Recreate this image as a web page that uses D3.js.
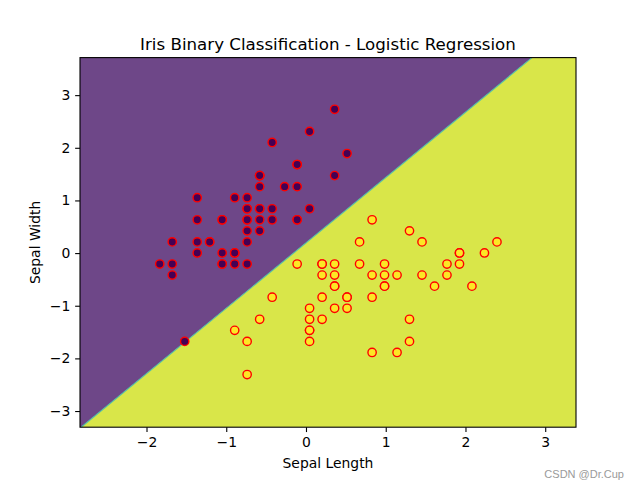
<!DOCTYPE html>
<html>
<head>
<meta charset="utf-8">
<script src="https://cdn.jsdelivr.net/npm/d3@7"></script>
<style>
  html, body { margin: 0; padding: 0; background: #fff; }
  svg { display: block; }
  text { font-family: "DejaVu Sans", sans-serif; }
</style>
</head>
<body>
<div id="chart"></div>
<script>
// Standardized sepal length / width (setosa = class 0, versicolor = class 1)
const sepalLength = [
  -0.581,-0.894,-1.208,-1.364,-0.738,-0.111,-1.364,-0.738,-1.677,-0.894,
  -0.111,-1.051,-1.051,-1.834, 0.515, 0.359,-0.111,-0.581, 0.359,-0.581,
  -0.111,-0.581,-1.364,-0.581,-1.051,-0.738,-0.738,-0.424,-0.424,-1.208,
  -1.051,-0.111,-0.424, 0.045,-0.894,-0.738, 0.045,-0.894,-1.677,-0.581,
  -0.738,-1.521,-1.677,-0.738,-0.581,-1.051,-0.581,-1.364,-0.268,-0.738,
   2.395, 1.455, 2.238, 0.045, 1.612, 0.359, 1.298,-0.894, 1.768,-0.424,
  -0.738, 0.672, 0.829, 0.985, 0.202, 1.925, 0.202, 0.515, 1.142, 0.202,
   0.672, 0.985, 1.298, 0.985, 1.455, 1.768, 2.081, 1.925, 0.829, 0.359,
   0.045, 0.045, 0.515, 0.829,-0.111, 0.829, 1.925, 1.298, 0.202, 0.045,
   0.045, 0.985, 0.515,-0.738, 0.202, 0.359, 0.359, 1.142,-0.581, 0.359
];
const sepalWidth = [
   0.842,-0.208, 0.212, 0.002, 1.052, 1.682, 0.632, 0.632,-0.418, 0.002,
   1.262, 0.632,-0.208,-0.208, 1.891, 2.731, 1.682, 0.842, 1.472, 1.472,
   0.632, 1.262, 1.052, 0.422, 0.632,-0.208, 0.632, 0.842, 0.632, 0.212,
   0.002, 0.632, 2.101, 2.311, 0.002, 0.212, 0.842, 1.052,-0.208, 0.632,
   0.842,-1.677, 0.212, 0.842, 1.472,-0.208, 1.472, 0.212, 1.262, 0.422,
   0.212, 0.212, 0.002,-1.677,-0.628,-0.628, 0.422,-1.467,-0.418,-0.838,
  -2.307,-0.208,-1.887,-0.418,-0.418, 0.002,-0.208,-0.838,-1.887,-1.257,
   0.212,-0.628,-1.257,-0.628,-0.418,-0.208,-0.628,-0.208,-0.418,-1.048,
  -1.467,-1.467,-0.838,-0.838,-0.208, 0.632, 0.002,-1.677,-0.208,-1.257,
  -1.048,-0.208,-1.048,-1.677,-0.838,-0.208,-0.418,-0.418,-1.257,-0.628
];
const classLabel = [
  0,0,0,0,0,0,0,0,0,0, 0,0,0,0,0,0,0,0,0,0, 0,0,0,0,0,0,0,0,0,0,
  0,0,0,0,0,0,0,0,0,0, 0,0,0,0,0,0,0,0,0,0,
  1,1,1,1,1,1,1,1,1,1, 1,1,1,1,1,1,1,1,1,1, 1,1,1,1,1,1,1,1,1,1,
  1,1,1,1,1,1,1,1,1,1, 1,1,1,1,1,1,1,1,1,1
];
// Decision boundary end points (where it meets the bottom and top of the plot)
const boundaryX = [-2.82, 2.835];
const boundaryY = [-3.307, 3.713];
const xDomain = [-2.834, 3.386];
const yDomain = [-3.307, 3.713];
const xTicks = [-2, -1, 0, 1, 2, 3];
const yTicks = [-3, -2, -1, 0, 1, 2, 3];

const W = 640, H = 480;
const L = 80, R = 576, T = 57.6, B = 427.2;

const svg = d3.select("#chart").append("svg").attr("width", W).attr("height", H);

const x = d3.scaleLinear().domain(xDomain).range([L, R]);
const y = d3.scaleLinear().domain(yDomain).range([B, T]);

const g = svg.append("g");
g.append("defs").append("clipPath").attr("id", "clip")
  .append("rect").attr("x", L).attr("y", T).attr("width", R - L).attr("height", B - T);

const regions = g.append("g").attr("clip-path", "url(#clip)");
const poly = d3.line().x(d => x(d[0])).y(d => y(d[1]));
const purplePts = [[xDomain[0], yDomain[0]], [boundaryX[0], boundaryY[0]], [boundaryX[1], boundaryY[1]], [xDomain[0], yDomain[1]]];
const yellowPts = [[boundaryX[0], boundaryY[0]], [xDomain[1], yDomain[0]], [xDomain[1], yDomain[1]], [boundaryX[1], boundaryY[1]]];
regions.append("path").attr("d", poly(purplePts) + "Z").attr("fill", "#6e4788");
regions.append("path").attr("d", poly(yellowPts) + "Z").attr("fill", "#d9e649");
regions.append("path")
  .attr("d", poly([[boundaryX[0], boundaryY[0]], [boundaryX[1], boundaryY[1]]]))
  .attr("stroke", "#52bea6").attr("stroke-width", 1.1).attr("fill", "none");

// points
const pts = sepalLength.map((v, i) => ({ x: v, y: sepalWidth[i], c: classLabel[i] }));
g.append("g").selectAll("circle").data(pts).join("circle")
  .attr("cx", d => x(d.x)).attr("cy", d => y(d.y)).attr("r", 4.17)
  .attr("fill", d => d.c === 0 ? "#440154" : "#fde725")
  .attr("stroke", "#ff0000").attr("stroke-width", 1.39);

// axes
const fs = "13.9px";
const fmt = d3.format("d");
const xAxis = g.append("g").attr("transform", `translate(0,${B})`)
  .call(d3.axisBottom(x).tickValues(xTicks).tickFormat(fmt).tickSize(4.86).tickPadding(4.86).tickSizeOuter(0));
const yAxis = g.append("g").attr("transform", `translate(${L},0)`)
  .call(d3.axisLeft(y).tickValues(yTicks).tickFormat(fmt).tickSize(4.86).tickPadding(4.86).tickSizeOuter(0));
[xAxis, yAxis].forEach(a => {
  a.select(".domain").remove();
  a.selectAll(".tick line").attr("stroke", "#000").attr("stroke-width", 1.1);
  a.selectAll(".tick text").attr("fill", "#000").style("font-size", fs)
    .style("font-family", "'DejaVu Sans', sans-serif");
});

// frame
g.append("rect").attr("x", L).attr("y", T).attr("width", R - L).attr("height", B - T)
  .attr("fill", "none").attr("stroke", "#000").attr("stroke-width", 1.1);

// titles
svg.append("text").attr("x", (L + R) / 2).attr("y", 49.5).attr("text-anchor", "middle")
  .style("font-size", "16.67px").text("Iris Binary Classification - Logistic Regression");
svg.append("text").attr("x", (L + R) / 2).attr("y", 468).attr("text-anchor", "middle")
  .style("font-size", fs).text("Sepal Length");
svg.append("text").attr("transform", `translate(40,${(T + B) / 2}) rotate(-90)`)
  .attr("text-anchor", "middle").style("font-size", fs).text("Sepal Width");

// watermark
svg.append("text").attr("x", 624).attr("y", 477.5).attr("text-anchor", "end")
  .style("font-family", "'Liberation Sans', Arial, sans-serif").style("font-size", "11px")
  .attr("fill", "#9a9a9a").text("CSDN @Dr.Cup");
</script>
</body>
</html>
